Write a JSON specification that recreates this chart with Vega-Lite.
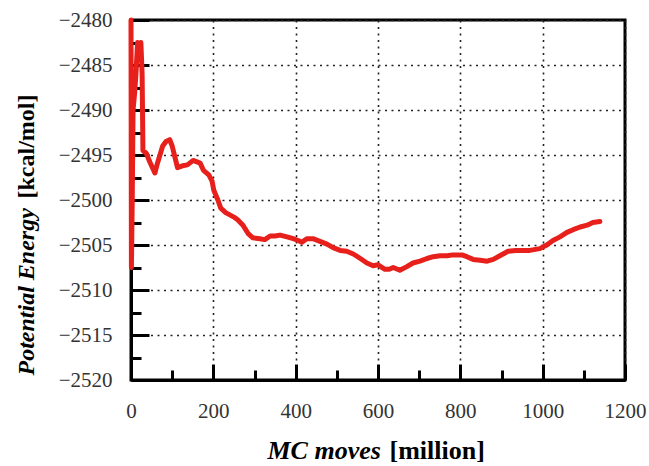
{
  "$schema": "https://vega.github.io/schema/vega-lite/v6.json",
  "width": 494,
  "height": 360,
  "autosize": "none",
  "padding": {"left": 131, "top": 20, "right": 24, "bottom": 86},
  "background": "white",
  "config": {
    "view": {"stroke": "black", "strokeWidth": 3},
    "axis": {
      "domainColor": "black",
      "domainWidth": 3,
      "tickColor": "black",
      "tickWidth": 3,
      "labelFont": "Liberation Serif",
      "labelFontSize": 21,
      "labelColor": "#333333",
      "labelFlush": false,
      "labelOverlap": false,
      "titleFont": "Liberation Serif",
      "titleColor": "black",
      "titleFontWeight": "bold",
      "gridColor": "#222222",
      "gridWidth": 1.6,
      "gridDash": [2, 4.5]
    }
  },
  "data": {
    "values": [
      {"moves": 0, "energy": -2480},
      {"moves": 1, "energy": -2507.5},
      {"moves": 3, "energy": -2500},
      {"moves": 5, "energy": -2490},
      {"moves": 9, "energy": -2488},
      {"moves": 12, "energy": -2486},
      {"moves": 16, "energy": -2482.5},
      {"moves": 20, "energy": -2483.5},
      {"moves": 24, "energy": -2482.5},
      {"moves": 27, "energy": -2486},
      {"moves": 29, "energy": -2494.5},
      {"moves": 37, "energy": -2494.8},
      {"moves": 46, "energy": -2495.8},
      {"moves": 58, "energy": -2497},
      {"moves": 65, "energy": -2495.8},
      {"moves": 77, "energy": -2494},
      {"moves": 85, "energy": -2493.5},
      {"moves": 94, "energy": -2493.3},
      {"moves": 100, "energy": -2494},
      {"moves": 107, "energy": -2495.3},
      {"moves": 113, "energy": -2496.4},
      {"moves": 125, "energy": -2496.2},
      {"moves": 137, "energy": -2496.1},
      {"moves": 151, "energy": -2495.6},
      {"moves": 168, "energy": -2495.9},
      {"moves": 176, "energy": -2496.7},
      {"moves": 189, "energy": -2497.2},
      {"moves": 197, "energy": -2497.9},
      {"moves": 201, "energy": -2498.9},
      {"moves": 211, "energy": -2500},
      {"moves": 218, "energy": -2500.9},
      {"moves": 230, "energy": -2501.4},
      {"moves": 250, "energy": -2501.9},
      {"moves": 259, "energy": -2502.2},
      {"moves": 272, "energy": -2502.8},
      {"moves": 284, "energy": -2503.7},
      {"moves": 296, "energy": -2504.2},
      {"moves": 313, "energy": -2504.3},
      {"moves": 325, "energy": -2504.4},
      {"moves": 338, "energy": -2504},
      {"moves": 350, "energy": -2504},
      {"moves": 362, "energy": -2503.9},
      {"moves": 379, "energy": -2504.1},
      {"moves": 394, "energy": -2504.3},
      {"moves": 406, "energy": -2504.5},
      {"moves": 415, "energy": -2504.7},
      {"moves": 427, "energy": -2504.3},
      {"moves": 442, "energy": -2504.3},
      {"moves": 459, "energy": -2504.6},
      {"moves": 476, "energy": -2504.9},
      {"moves": 491, "energy": -2505.3},
      {"moves": 508, "energy": -2505.6},
      {"moves": 524, "energy": -2505.7},
      {"moves": 540, "energy": -2506},
      {"moves": 557, "energy": -2506.5},
      {"moves": 573, "energy": -2507},
      {"moves": 588, "energy": -2507.3},
      {"moves": 600, "energy": -2507.2},
      {"moves": 617, "energy": -2507.7},
      {"moves": 627, "energy": -2507.7},
      {"moves": 637, "energy": -2507.5},
      {"moves": 653, "energy": -2507.8},
      {"moves": 670, "energy": -2507.4},
      {"moves": 685, "energy": -2507},
      {"moves": 702, "energy": -2506.8},
      {"moves": 719, "energy": -2506.5},
      {"moves": 734, "energy": -2506.3},
      {"moves": 751, "energy": -2506.2},
      {"moves": 768, "energy": -2506.2},
      {"moves": 782, "energy": -2506.1},
      {"moves": 804, "energy": -2506.1},
      {"moves": 816, "energy": -2506.3},
      {"moves": 831, "energy": -2506.6},
      {"moves": 848, "energy": -2506.7},
      {"moves": 865, "energy": -2506.8},
      {"moves": 880, "energy": -2506.6},
      {"moves": 896, "energy": -2506.2},
      {"moves": 916, "energy": -2505.7},
      {"moves": 935, "energy": -2505.6},
      {"moves": 952, "energy": -2505.6},
      {"moves": 969, "energy": -2505.6},
      {"moves": 993, "energy": -2505.4},
      {"moves": 1010, "energy": -2505},
      {"moves": 1025, "energy": -2504.5},
      {"moves": 1042, "energy": -2504.1},
      {"moves": 1059, "energy": -2503.6},
      {"moves": 1074, "energy": -2503.3},
      {"moves": 1091, "energy": -2503},
      {"moves": 1108, "energy": -2502.8},
      {"moves": 1122, "energy": -2502.5},
      {"moves": 1139, "energy": -2502.4}
    ]
  },
  "layer": [
    {
      "mark": {"type": "line", "strokeOpacity": 0},
      "encoding": {
        "x": {
          "field": "moves",
          "type": "quantitative",
          "scale": {"domain": [0, 1200], "nice": false, "zero": false},
          "axis": {
            "orient": "bottom",
            "values": [0, 200, 400, 600, 800, 1000, 1200],
            "format": "d",
            "tickSize": -16,
            "labelPadding": 36,
            "grid": true,
            "title": "MC moves",
            "titleFontStyle": "italic",
            "titleFontSize": 26,
            "titleAngle": 0,
            "titleAlign": "left",
            "titleBaseline": "alphabetic",
            "titleX": 136,
            "titleY": 78
          }
        },
        "y": {
          "field": "energy",
          "type": "quantitative",
          "scale": {"domain": [-2520, -2480], "nice": false, "zero": false},
          "axis": {
            "orient": "left",
            "values": [-2520, -2515, -2510, -2505, -2500, -2495, -2490, -2485, -2480],
            "format": "d",
            "tickSize": -18,
            "labelPadding": 37,
            "grid": true,
            "title": "Potential Energy",
            "titleFontStyle": "italic",
            "titleFontSize": 24,
            "titleAngle": -90,
            "titleAlign": "left",
            "titleBaseline": "alphabetic",
            "titleX": -98,
            "titleY": 355
          }
        }
      }
    },
    {
      "mark": {
        "type": "line",
        "color": "#e8201c",
        "strokeWidth": 5,
        "strokeCap": "round",
        "strokeJoin": "round"
      },
      "encoding": {
        "x": {
          "field": "moves",
          "type": "quantitative",
          "scale": {"domain": [0, 1200], "nice": false, "zero": false},
          "axis": {
            "orient": "bottom",
            "values": [100, 300, 500, 700, 900, 1100],
            "tickSize": -10,
            "labels": false,
            "domain": false,
            "grid": false,
            "title": "[million]",
            "titleFontStyle": "normal",
            "titleFontSize": 26,
            "titleAngle": 0,
            "titleAlign": "left",
            "titleBaseline": "alphabetic",
            "titleX": 258,
            "titleY": 78
          }
        },
        "y": {
          "field": "energy",
          "type": "quantitative",
          "scale": {"domain": [-2520, -2480], "nice": false, "zero": false},
          "axis": {
            "orient": "left",
            "values": [-2517.5, -2512.5, -2507.5, -2502.5, -2497.5, -2492.5, -2487.5, -2482.5],
            "tickSize": -10,
            "labels": false,
            "domain": false,
            "grid": false,
            "title": "[kcal/mol]",
            "titleFontStyle": "normal",
            "titleFontSize": 24,
            "titleAngle": -90,
            "titleAlign": "left",
            "titleBaseline": "alphabetic",
            "titleX": -98,
            "titleY": 178
          }
        }
      }
    }
  ],
  "resolve": {"axis": {"x": "independent", "y": "independent"}}
}
